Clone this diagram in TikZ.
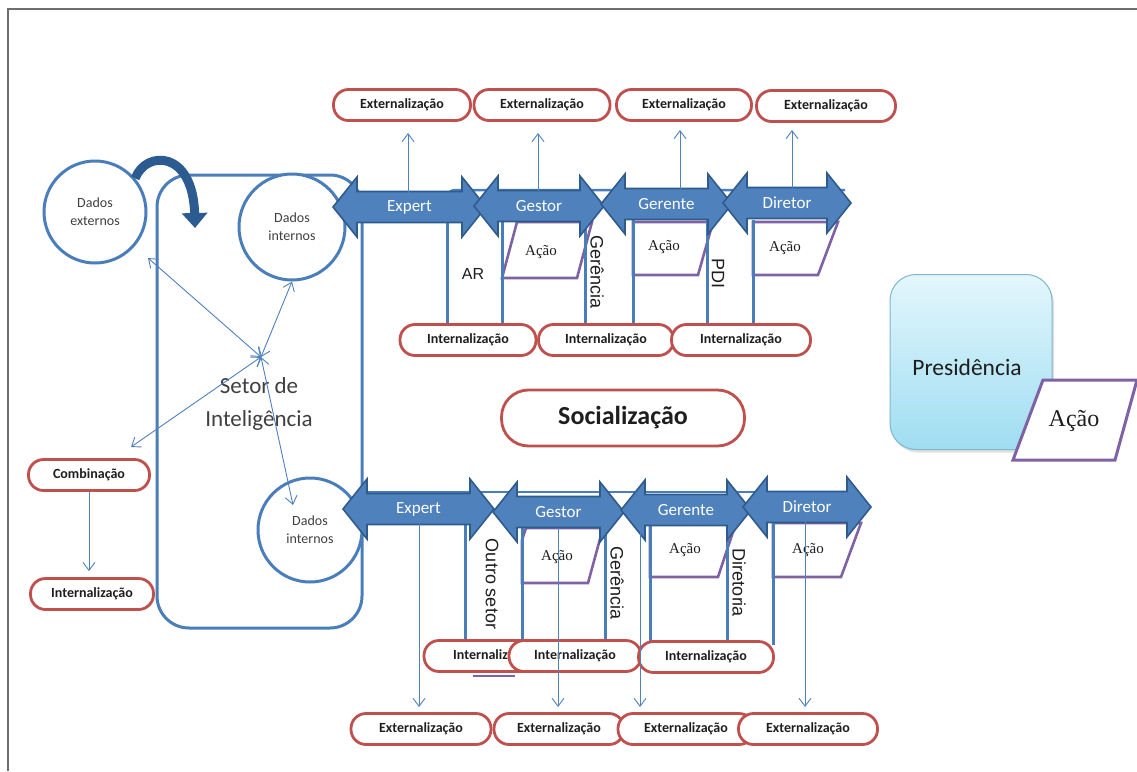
\documentclass[tikz,border=0pt]{standalone}
\usepackage{fontspec}
\setmainfont{Carlito}
\newfontfamily\serifface{Liberation Serif}
\newfontfamily\arialface{Liberation Sans}
\usetikzlibrary{arrows.meta,shadows}

\definecolor{frameGray}{HTML}{6E6E6E}
\definecolor{lineBlue}{HTML}{4A7EBB}
\definecolor{thinBlue}{HTML}{4F81BD}
\definecolor{arrowFill}{HTML}{4F81BD}
\definecolor{arrowEdge}{HTML}{2F5A8C}
\definecolor{curveBlue}{HTML}{2B5B91}
\definecolor{pillRed}{HTML}{C0504D}
\definecolor{acaoPurple}{HTML}{7F62A3}
\definecolor{textDark}{HTML}{1E1E1E}
\definecolor{textGray}{HTML}{404040}
\definecolor{presTop}{HTML}{E3F6FC}
\definecolor{presBottom}{HTML}{9FDDF2}
\definecolor{presEdge}{HTML}{7CB8CC}

\tikzset{
  frame/.style={draw=frameGray, line width=2pt},
  container/.style={rectangle, draw=lineBlue, line width=3pt, rounded corners=32pt,
    minimum width=205pt, minimum height=453pt, inner sep=0pt},
  dados/.style={circle, draw=lineBlue, line width=3pt, fill=white, align=center,
    inner sep=0pt, text=textGray, font=\fontsize{14}{18}\selectfont},
  bigtext/.style={align=center, inner sep=0pt, text=textGray, font=\fontsize{23}{33}\selectfont},
  curvearrow/.style={draw=curveBlue, line width=9pt, -{Triangle[length=15pt,width=25pt]}},
  tarrow/.style={draw=thinBlue, line width=0.9pt, -{Straight Barb[length=8pt,width=12pt]}},
  tboth/.style={draw=thinBlue, line width=0.9pt,
    {Straight Barb[length=8pt,width=12pt]}-{Straight Barb[length=8pt,width=12pt]}},
  backline/.style={draw=lineBlue, line width=2.5pt},
  vline/.style={draw=lineBlue, line width=3pt},
  barrowshape/.style={fill=arrowFill, draw=arrowEdge, line width=1.6pt},
  arrowlabel/.style={text=white, inner sep=0pt, font=\fontsize{17}{20}\selectfont},
  acao/.style={draw=acaoPurple, line width=2.6pt, fill=white},
  acaotxt/.style={inner sep=0pt, text=textDark, font=\serifface\fontsize{15}{18}\selectfont},
  vlabel/.style={rotate=-90, inner sep=0pt, text=textDark, font=\arialface\fontsize{18}{20}\selectfont},
  hlabel/.style={inner sep=0pt, text=textDark, font=\arialface\fontsize{16}{18}\selectfont},
  pill/.style={rectangle, draw=pillRed, line width=2.8pt, fill=white, rounded corners=15pt,
    minimum height=31pt, inner sep=0pt, text=textDark, font=\bfseries\fontsize{14}{16}\selectfont},
  presbox/.style={rectangle, rounded corners=26pt, minimum width=162pt, minimum height=175pt,
    top color=presTop, bottom color=presBottom, draw=presEdge, line width=1pt,
    drop shadow={opacity=0.25, shadow xshift=2pt, shadow yshift=-3pt}},
  prestext/.style={inner sep=0pt, text=textDark, font=\fontsize{23.5}{28}\selectfont},
}

% double-headed block arrow: left tip x, right tip x, centre y, name, label
\newcommand\blockarrow[5]{%
  \pgfmathsetmacro\baW{#2-#1-48}%
  \filldraw[barrowshape] (#1,#3) -- ++(24,-30) -- ++(0,14.5) -- ++(\baW,0) -- ++(0,-14.5)
    -- (#2,#3) -- ++(-24,30) -- ++(0,-14.5) -- ++(-\baW,0) -- ++(0,14.5) -- cycle;
  \node[arrowlabel] (#4) at ({(#1+#2)/2},#3) {#5};
}

\begin{document}
\begin{tikzpicture}[x=1pt,y=-1pt]
\useasboundingbox (0,0) rectangle (1137,771);
\fill[white] (0,0) rectangle (1137,771);

% window frame
\draw[frame] (8,771) -- (8,9) -- (1137,9);

% intelligence sector container
\node[container] (setorbox) at (259.5,401.5) {};
\node[bigtext] (setortxt) at (259,404) {Setor de\\Inteligência};

% data circles
\node[dados, minimum size=102pt] (dext) at (95,212) {Dados\\externos};
\node[dados, minimum size=106pt] (din1) at (292,227) {Dados\\internos};
\node[dados, minimum size=104pt] (din2) at (310,530) {Dados\\internos};

% curved arrow from external data into the sector
\coordinate (curveEnd) at (195,228);
\draw[curvearrow] (dext.40) .. controls (146,150) and (193,150) .. (curveEnd);

% hub connectors
\coordinate (hub) at (261,357);
\coordinate (hubExt) at (148,258);
\coordinate (hubComb) at (131,447);
\coordinate (hubIn2) at (293,505);
\draw[tboth] (hub) -- (hubExt);
\draw[tboth] (hub) -- (din1.south);
\draw[tboth] (hub) -- (hubComb);
\draw[tboth] (hub) -- (hubIn2);

% combination / internalisation on the left
\node[pill, minimum width=121pt] (comb) at (89,475) {Combinação};
\node[pill, minimum width=123pt] (intL) at (92,594) {Internalização};
\draw[tarrow] (comb.south) -- ([yshift=6pt]intL.north -| comb.south);

% lines running behind the block arrows
\draw[backline, rounded corners=8pt] (447,215) -- (447,190) -- (845,190);
\draw[backline] (362,492) -- (850,492);

% ---- upper chain ----
\filldraw[acao] (502,278) -- (517,222) -- (592,222) -- (577,278) -- cycle;
\filldraw[acao] (633,275) -- (633,222) -- (713,222) -- (698,275) -- cycle;
\filldraw[acao] (753,275) -- (753,222) -- (838,222) -- (818,275) -- cycle;
\node[acaotxt] (acaoT1) at (541,252) {Ação};
\node[acaotxt] (acaoT2) at (664,247) {Ação};
\node[acaotxt] (acaoT3) at (785,248) {Ação};

\foreach \x in {447,502,585,633,707,753} \draw[vline] (\x,220) -- (\x,330);

\node[hlabel] (lblAR) at (473,274) {AR};
\node[vlabel] (lblGerT) at (597,272) {Gerência};
\node[vlabel] (lblPDI) at (718,273) {PDI};

\blockarrow{333}{486}{207}{expT}{Expert}
\blockarrow{474}{604}{206}{gesT}{Gestor}
\blockarrow{601}{732}{204}{gerT}{Gerente}
\blockarrow{723}{851}{203}{dirT}{Diretor}

\node[pill, minimum width=137pt] (extT1) at (402,105) {Externalização};
\node[pill, minimum width=136pt] (extT2) at (542,105) {Externalização};
\node[pill, minimum width=135pt] (extT3) at (684,105) {Externalização};
\node[pill, minimum width=139pt] (extT4) at (826,106) {Externalização};

\node[pill, minimum width=136pt] (intT1) at (468,340) {Internalização};
\node[pill, minimum width=135pt] (intT2) at (606,340) {Internalização};
\node[pill, minimum width=139pt] (intT3) at (741,340) {Internalização};

\coordinate (upA) at (408,202); \coordinate (upAe) at (408,133);
\coordinate (upB) at (538,191); \coordinate (upBe) at (538,133);
\coordinate (upC) at (680,189); \coordinate (upCe) at (680,130);
\coordinate (upD) at (792,188); \coordinate (upDe) at (792,130);
\draw[tarrow] (upA) -- (upAe);
\draw[tarrow] (upB) -- (upBe);
\draw[tarrow] (upC) -- (upCe);
\draw[tarrow] (upD) -- (upDe);

% socialisation
\node[pill, minimum width=243pt, minimum height=56pt, rounded corners=27pt,
      font=\bfseries\fontsize{26}{30}\selectfont] (social) at (623,418) {Socialização};

% ---- lower chain ----
\draw[acao] (473,676) -- (515,676);
\filldraw[acao] (522,583) -- (522,540) -- (526,528) -- (603,528) -- (588,583) -- cycle;
\filldraw[acao] (650,577) -- (650,523) -- (736,523) -- (718,577) -- cycle;
\filldraw[acao] (773,577) -- (773,523) -- (861,523) -- (841,577) -- cycle;
\node[acaotxt] (acaoB1) at (557,557) {Ação};
\node[acaotxt] (acaoB2) at (685,550) {Ação};
\node[acaotxt] (acaoB3) at (808,550) {Ação};

\foreach \x in {465,522,605,650,727,773} \draw[vline] (\x,522) -- (\x,645);

\node[vlabel] (lblOutro) at (492,584) {Outro setor};
\node[vlabel] (lblGerB) at (617,583) {Gerência};
\node[vlabel] (lblDir) at (739,583) {Diretoria};

\blockarrow{343}{494}{509}{expB}{Expert}
\blockarrow{493}{624}{512}{gesB}{Gestor}
\blockarrow{621}{751}{510}{gerB}{Gerente}
\blockarrow{743}{871}{507}{dirB}{Diretor}

\node[pill, minimum width=140pt] (intB1) at (494,656) {Internalização};
\node[pill, minimum width=132pt] (intB2) at (575,656) {Internalização};
\node[pill, minimum width=135pt] (intB3) at (706,657) {Internalização};

\node[pill, minimum width=140pt] (extB1) at (421,729) {Externalização};
\node[pill, minimum width=130pt] (extB2) at (559,729) {Externalização};
\node[pill, minimum width=136pt] (extB3) at (686,729) {Externalização};
\node[pill, minimum width=139pt] (extB4) at (808,729) {Externalização};

\coordinate (dnA) at (419,524); \coordinate (dnAe) at (419,707);
\coordinate (dnB) at (558,528); \coordinate (dnBe) at (558,707);
\coordinate (dnC) at (640,525); \coordinate (dnCe) at (640,707);
\coordinate (dnD) at (805,522); \coordinate (dnDe) at (805,707);
\draw[tarrow] (dnA) -- (dnAe);
\draw[tarrow] (dnB) -- (dnBe);
\draw[tarrow] (dnC) -- (dnCe);
\draw[tarrow] (dnD) -- (dnDe);

% presidency
\node[presbox] (presbox) at (971,362) {};
\node[prestext] (prestxt) at (967,367) {Presidência};
\filldraw[acao, line width=3pt] (1013,460) -- (1043,380) -- (1137,380) -- (1115,460) -- cycle;
\node[acaotxt, font=\serifface\fontsize{24}{28}\selectfont] (acaoPres) at (1074,421) {Ação};
\end{tikzpicture}
\end{document}
